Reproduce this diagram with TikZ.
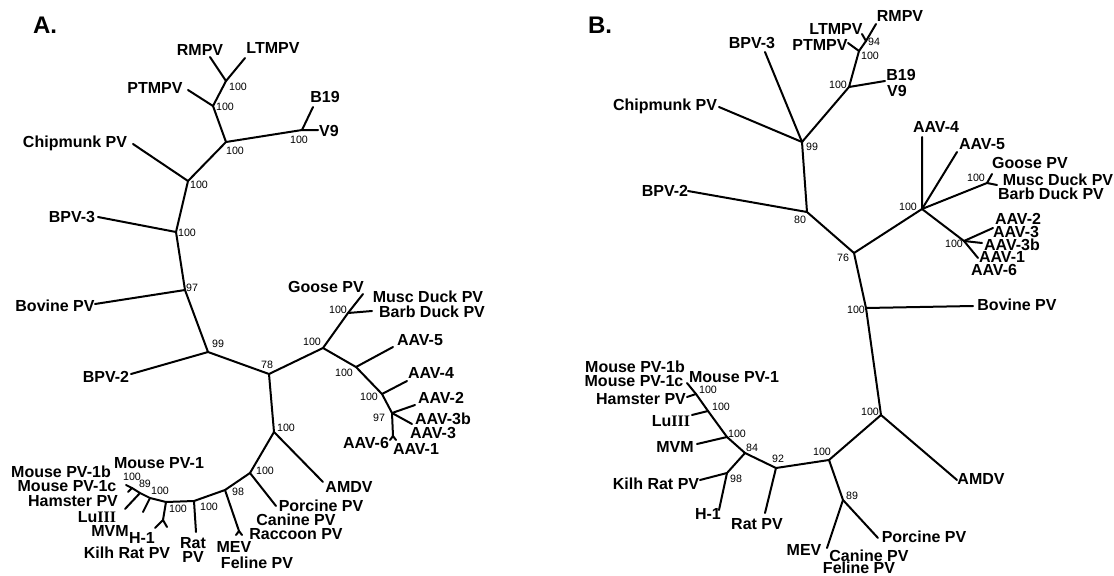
\documentclass[tikz,border=0pt]{standalone}
\usepackage{fontspec}
\setmainfont{Liberation Sans}
\newfontfamily\serifI{Liberation Serif}

\begin{document}
\begin{tikzpicture}[x=0.75pt,y=-0.75pt,
  br/.style={line width=1.5pt,line cap=round,line join=round},
  leaf/.style={font=\bfseries\fontsize{12}{13}\selectfont,inner sep=0pt},
  bs/.style={font=\fontsize{8}{9}\selectfont,inner sep=0pt},
  panel/.style={font=\bfseries\fontsize{18}{20}\selectfont,inner sep=0pt}]
  \useasboundingbox (0,0) rectangle (1114,575);

  % panel A
  \node[panel] (titleA) at (45,25) {A.};
  \coordinate (a1) at (226,81);
  \coordinate (a2) at (213,106);
  \coordinate (a3) at (302,130);
  \coordinate (a4) at (226,142);
  \coordinate (a5) at (188,181);
  \coordinate (a6) at (176,232);
  \coordinate (a7) at (185,290);
  \coordinate (a8) at (208,352);
  \coordinate (a9) at (269,374);
  \coordinate (a10) at (274,432);
  \coordinate (a11) at (250,473);
  \coordinate (a12) at (225,490);
  \coordinate (a13) at (194,501);
  \coordinate (a14) at (166,502);
  \coordinate (a15) at (323,348);
  \coordinate (a16) at (348,313);
  \coordinate (a17) at (356,367);
  \coordinate (a18) at (382,394);
  \coordinate (a19) at (392,413);
  \coordinate (a20) at (393,436);
  \coordinate (a21) at (239,531);
  \coordinate (a22) at (163,520);
  \coordinate (am1) at (150,498);
  \coordinate (am2) at (140,493);
  \coordinate (am3) at (132,488);
  \coordinate (tRMPVa) at (210,57);
  \coordinate (tLTMPVa) at (245,58);
  \coordinate (tPTMPVa) at (188,90);
  \coordinate (tB19a) at (313,107);
  \coordinate (tV9a) at (318,130);
  \coordinate (tChipa) at (133,144);
  \coordinate (tBPVthreea) at (98,217);
  \coordinate (tBova) at (95,304);
  \coordinate (tBPVtwoa) at (131,374);
  \coordinate (tGoosea) at (363,294);
  \coordinate (tDucka) at (372,311);
  \coordinate (tAAVfivea) at (393,347);
  \coordinate (tAAVfoura) at (407,381);
  \coordinate (tAAVtwoa) at (415,405);
  \coordinate (tAAVthreea) at (412,424);
  \coordinate (tAAVsixa) at (390,440);
  \coordinate (tAAVonea) at (396,440);
  \coordinate (tAMDVa) at (323,482);
  \coordinate (tPorca) at (276,506);
  \coordinate (tMEVa) at (236,535);
  \coordinate (tFela) at (242,535);
  \coordinate (tRata) at (196,532);
  \coordinate (tHonea) at (155,528);
  \coordinate (tKilha) at (167,527);
  \coordinate (tMVMa) at (143,512);
  \coordinate (tLua) at (125,509);
  \coordinate (tMbiga) at (126,485);
  \coordinate (tMsmalla) at (128,492);

  \draw[br] (tRMPVa) -- (a1) -- (tLTMPVa);
  \draw[br] (a1) -- (a2) -- (tPTMPVa);
  \draw[br] (tB19a) -- (a3) -- (tV9a);
  \draw[br] (a2) -- (a4) -- (a3);
  \draw[br] (a4) -- (a5) -- (tChipa);
  \draw[br] (a5) -- (a6) -- (tBPVthreea);
  \draw[br] (a6) -- (a7) -- (tBova);
  \draw[br] (a7) -- (a8) -- (tBPVtwoa);
  \draw[br] (a8) -- (a9) -- (a15) -- (a16) -- (tGoosea);
  \draw[br] (a16) -- (tDucka);
  \draw[br] (a15) -- (a17) -- (a18) -- (a19) -- (a20);
  \draw[br] (a17) -- (tAAVfivea);
  \draw[br] (a18) -- (tAAVfoura);
  \draw[br] (a19) -- (tAAVtwoa);
  \draw[br] (a19) -- (tAAVthreea);
  \draw[br] (tAAVsixa) -- (a20) -- (tAAVonea);
  \draw[br] (a9) -- (a10) -- (tAMDVa);
  \draw[br] (a10) -- (a11) -- (tPorca);
  \draw[br] (a11) -- (a12) -- (a21);
  \draw[br] (tMEVa) -- (a21) -- (tFela);
  \draw[br] (a12) -- (a13) -- (tRata);
  \draw[br] (a13) -- (a14) -- (a22);
  \draw[br] (tHonea) -- (a22) -- (tKilha);
  \draw[br] (a14) -- (am1) -- (am2) -- (am3);
  \draw[br] (am1) -- (tMVMa);
  \draw[br] (am2) -- (tLua);
  \draw[br] (tMbiga) -- (am3) -- (tMsmalla);

  \node[leaf] (lRMPVa) at (200,50) {RMPV};
  \node[leaf] (lLTMPVa) at (273,48) {LTMPV};
  \node[leaf] (lPTMPVa) at (155,88) {PTMPV};
  \node[leaf] (lB19a) at (325,97) {B19};
  \node[leaf] (lV9a) at (329,131) {V9};
  \node[leaf] (lChipa) at (75,143) {Chipmunk PV};
  \node[leaf] (lBPVthreea) at (72,217) {BPV-3};
  \node[leaf] (lBova) at (55,306) {Bovine PV};
  \node[leaf] (lBPVtwoa) at (106,377) {BPV-2};
  \node[leaf] (lGoosea) at (326,287) {Goose PV};
  \node[leaf] (lMuscDucka) at (428,297) {Musc Duck PV};
  \node[leaf] (lBarbDucka) at (432,312) {Barb Duck PV};
  \node[leaf] (lAAVfivea) at (420,340) {AAV-5};
  \node[leaf] (lAAVfoura) at (431,373) {AAV-4};
  \node[leaf] (lAAVtwoa) at (441,398) {AAV-2};
  \node[leaf] (lAAVthreeba) at (443,419) {AAV-3b};
  \node[leaf] (lAAVthreea) at (433,433) {AAV-3};
  \node[leaf] (lAAVsixa) at (366,443) {AAV-6};
  \node[leaf] (lAAVonea) at (416,449) {AAV-1};
  \node[leaf] (lAMDVa) at (349,487) {AMDV};
  \node[leaf] (lPorca) at (321,506) {Porcine PV};
  \node[leaf] (lCana) at (296,520) {Canine PV};
  \node[leaf] (lRacca) at (296,534) {Raccoon PV};
  \node[leaf] (lMEVa) at (234,547) {MEV};
  \node[leaf] (lFela) at (257,563) {Feline PV};
  \node[leaf,align=center] (lRata) at (193,550) {Rat\\[-3pt]PV};
  \node[leaf] (lHonea) at (142,538) {H-1};
  \node[leaf] (lKilha) at (127,553) {Kilh Rat PV};
  \node[leaf] (lMVMa) at (110,531) {MVM};
  \node[leaf] (lLua) at (97,517) {Lu{\serifI III}};
  \node[leaf] (lHama) at (73,501) {Hamster PV};
  \node[leaf] (lMouseca) at (67,486) {Mouse PV-1c};
  \node[leaf] (lMouseba) at (61,472) {Mouse PV-1b};
  \node[leaf] (lMousea) at (159,463) {Mouse PV-1};

  \node[bs] (sa1) at (238,87) {100};
  \node[bs] (sa2) at (225,107) {100};
  \node[bs] (sa3) at (299,140) {100};
  \node[bs] (sa4) at (235,151) {100};
  \node[bs] (sa5) at (199,185) {100};
  \node[bs] (sa6) at (187,233) {100};
  \node[bs] (sa7) at (192,288) {97};
  \node[bs] (sa8) at (218,344) {99};
  \node[bs] (sa9) at (267,365) {78};
  \node[bs] (sa10) at (286,428) {100};
  \node[bs] (sa11) at (265,471) {100};
  \node[bs] (sa12) at (238,492) {98};
  \node[bs] (sa13) at (209,507) {100};
  \node[bs] (sa14) at (178,509) {100};
  \node[bs] (sam1) at (160,491) {100};
  \node[bs] (sam2) at (145,484) {89};
  \node[bs] (sam3) at (132,477) {100};
  \node[bs] (sa15) at (312,342) {100};
  \node[bs] (sa16) at (338,310) {100};
  \node[bs] (sa17) at (344,373) {100};
  \node[bs] (sa18) at (369,397) {100};
  \node[bs] (sa19) at (379,418) {97};

  % panel B
  \node[panel] (titleB) at (600,25) {B.};
  \coordinate (b1) at (866,41);
  \coordinate (b2) at (859,51);
  \coordinate (b3) at (849,87);
  \coordinate (b4) at (802,142);
  \coordinate (b5) at (807,212);
  \coordinate (b6) at (854,253);
  \coordinate (b7) at (922,209);
  \coordinate (b8) at (987,183);
  \coordinate (b9) at (964,241);
  \coordinate (b10) at (866,308);
  \coordinate (b11) at (881,415);
  \coordinate (b12) at (829,460);
  \coordinate (b13) at (843,500);
  \coordinate (b14) at (776,468);
  \coordinate (b15) at (745,453);
  \coordinate (b16) at (727,473);
  \coordinate (b17) at (727,437);
  \coordinate (b18) at (708,411);
  \coordinate (b19) at (696,394);
  \coordinate (tRMPVb) at (876,24);
  \coordinate (tLTMPVb) at (862,34);
  \coordinate (tPTMPVb) at (848,43);
  \coordinate (tBnVb) at (885,81);
  \coordinate (tBPVthreeb) at (765,52);
  \coordinate (tChipb) at (719,107);
  \coordinate (tBPVtwob) at (688,191);
  \coordinate (tAAVfourb) at (922,137);
  \coordinate (tAAVfiveb) at (957,152);
  \coordinate (tGooseb) at (992,174);
  \coordinate (tDuckb) at (997,185);
  \coordinate (tAAVtwob) at (993,228);
  \coordinate (tAAVthreeb) at (982,243);
  \coordinate (tAAVoneb) at (978,258);
  \coordinate (tBovb) at (973,306);
  \coordinate (tAMDVb) at (957,480);
  \coordinate (tPorcb) at (878,538);
  \coordinate (tMEVb) at (827,548);
  \coordinate (tRatb) at (765,513);
  \coordinate (tKilhb) at (700,480);
  \coordinate (tHoneb) at (719,510);
  \coordinate (tMVMb) at (697,444);
  \coordinate (tLub) at (692,415);
  \coordinate (tHamb) at (687,397);
  \coordinate (tMouseb) at (687,383);

  \draw[br] (tRMPVb) -- (b1) -- (tLTMPVb);
  \draw[br] (b1) -- (b2) -- (tPTMPVb);
  \draw[br] (b2) -- (b3) -- (tBnVb);
  \draw[br] (b3) -- (b4) -- (tBPVthreeb);
  \draw[br] (b4) -- (tChipb);
  \draw[br] (b4) -- (b5) -- (tBPVtwob);
  \draw[br] (b5) -- (b6) -- (b7) -- (tAAVfourb);
  \draw[br] (b7) -- (tAAVfiveb);
  \draw[br] (b7) -- (b8) -- (tGooseb);
  \draw[br] (b8) -- (tDuckb);
  \draw[br] (b7) -- (b9) -- (tAAVtwob);
  \draw[br] (b9) -- (tAAVthreeb);
  \draw[br] (b9) -- (tAAVoneb);
  \draw[br] (b6) -- (b10) -- (tBovb);
  \draw[br] (b10) -- (b11) -- (tAMDVb);
  \draw[br] (b11) -- (b12) -- (b13) -- (tPorcb);
  \draw[br] (b13) -- (tMEVb);
  \draw[br] (b12) -- (b14) -- (tRatb);
  \draw[br] (b14) -- (b15) -- (b16) -- (tKilhb);
  \draw[br] (b16) -- (tHoneb);
  \draw[br] (b15) -- (b17) -- (b18) -- (b19) -- (tMouseb);
  \draw[br] (b17) -- (tMVMb);
  \draw[br] (b18) -- (tLub);
  \draw[br] (b19) -- (tHamb);

  \node[leaf] (lRMPVb) at (900,16) {RMPV};
  \node[leaf] (lLTMPVb) at (836,29) {LTMPV};
  \node[leaf] (lPTMPVb) at (820,45) {PTMPV};
  \node[leaf] (lB19b) at (901,75) {B19};
  \node[leaf] (lV9b) at (897,91) {V9};
  \node[leaf] (lBPVthreeb) at (752,43) {BPV-3};
  \node[leaf] (lChipb) at (665,106) {Chipmunk PV};
  \node[leaf] (lBPVtwob) at (665,191) {BPV-2};
  \node[leaf] (lAAVfourb) at (936,127) {AAV-4};
  \node[leaf] (lAAVfiveb) at (982,144) {AAV-5};
  \node[leaf] (lGooseb) at (1030,163) {Goose PV};
  \node[leaf] (lMuscDuckb) at (1058,180) {Musc Duck PV};
  \node[leaf] (lBarbDuckb) at (1051,194) {Barb Duck PV};
  \node[leaf] (lAAVtwob) at (1018,219) {AAV-2};
  \node[leaf] (lAAVthreeb) at (1016,232) {AAV-3};
  \node[leaf] (lAAVthreebb) at (1012,245) {AAV-3b};
  \node[leaf] (lAAVoneb) at (1002,257) {AAV-1};
  \node[leaf] (lAAVsixb) at (994,270) {AAV-6};
  \node[leaf] (lBovb) at (1017,305) {Bovine PV};
  \node[leaf] (lAMDVb) at (981,479) {AMDV};
  \node[leaf] (lPorcb) at (924,537) {Porcine PV};
  \node[leaf] (lMEVb) at (804,550) {MEV};
  \node[leaf] (lCanb) at (869,556) {Canine PV};
  \node[leaf] (lFelb) at (859,568) {Feline PV};
  \node[leaf] (lRatb) at (757,524) {Rat PV};
  \node[leaf] (lHoneb) at (708,514) {H-1};
  \node[leaf] (lKilhb) at (656,484) {Kilh Rat PV};
  \node[leaf] (lMVMb) at (675,447) {MVM};
  \node[leaf] (lLub) at (671,421) {Lu{\serifI III}};
  \node[leaf] (lHamb) at (641,399) {Hamster PV};
  \node[leaf] (lMousebb) at (635,367) {Mouse PV-1b};
  \node[leaf] (lMousecb) at (634,381) {Mouse PV-1c};
  \node[leaf] (lMouseb) at (734,377) {Mouse PV-1};

  \node[bs] (sb1) at (874,42) {94};
  \node[bs] (sb2) at (870,56) {100};
  \node[bs] (sb3) at (838,85) {100};
  \node[bs] (sb4) at (812,147) {99};
  \node[bs] (sb5) at (800,220) {80};
  \node[bs] (sb6) at (843,258) {76};
  \node[bs] (sb7) at (908,207) {100};
  \node[bs] (sb8) at (976,178) {100};
  \node[bs] (sb9) at (954,244) {100};
  \node[bs] (sb10) at (856,310) {100};
  \node[bs] (sb11) at (870,412) {100};
  \node[bs] (sb12) at (822,452) {100};
  \node[bs] (sb13) at (852,496) {89};
  \node[bs] (sb14) at (778,459) {92};
  \node[bs] (sb15) at (752,448) {84};
  \node[bs] (sb16) at (736,479) {98};
  \node[bs] (sb17) at (737,434) {100};
  \node[bs] (sb18) at (721,407) {100};
  \node[bs] (sb19) at (708,390) {100};
\end{tikzpicture}
\end{document}
